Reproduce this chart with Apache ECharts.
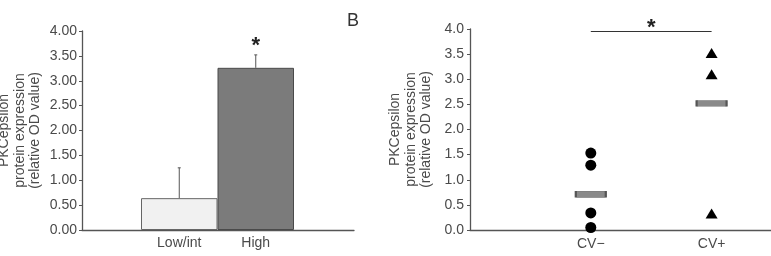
<!DOCTYPE html>
<html>
<head>
<meta charset="utf-8">
<script src="https://cdn.jsdelivr.net/npm/echarts@6/dist/echarts.min.js"></script>
<style>
  html, body { margin: 0; padding: 0; background: #fff; }
  #chart { width: 771px; height: 256px; }
</style>
</head>
<body>
<div id="chart"></div>
<script>
// ---- Data ----
const leftCategories = ['Low/int', 'High'];
const leftMeans = [0.64, 3.26];
const leftErrUpper = [1.25, 3.52];
const leftSig = ['', '*'];

const rightCategories = ['CV\u2212', 'CV+'];
const cvNegValues = [1.53, 1.29, 0.34, 0.05];
const cvPosValues = [3.52, 3.10, 0.33];
const medianValues = [0.71, 2.52];
const sigLineLevel = 3.95;
const sigLineText = '*';

const yTicksLeftDecimals = 2;
const yTicksRightDecimals = 1;
const axisName = 'PKCepsilon\nprotein expression\n(relative OD value)';

// ---- Styling ----
const FONT = 'Liberation Sans, Arial, sans-serif';
const TXT = '#4a4a4a';
const AX = '#555';

const chart = echarts.init(document.getElementById('chart'), null, { renderer: 'canvas' });

const errData = leftMeans.map((m, i) => [i, m, leftErrUpper[i], leftSig[i]]);

const option = {
  animation: false,
  title: {
    text: 'B', left: 342, top: 7,
    textStyle: { fontFamily: FONT, fontSize: 18, fontWeight: 'normal', color: '#333' }
  },
  grid: [
    { left: 141, top: 31, width: 153, height: 199, outerBoundsMode: 'none', containLabel: false },
    { left: 82, top: 31, width: 272, height: 199, outerBoundsMode: 'none', containLabel: false },
    { left: 470, top: 29, width: 302, height: 201, outerBoundsMode: 'none', containLabel: false }
  ],
  xAxis: [
    {
      gridIndex: 0, type: 'category', data: leftCategories,
      axisLine: { show: false }, axisTick: { show: false },
      axisLabel: { fontFamily: FONT, fontSize: 14, color: TXT, margin: 6 }
    },
    {
      gridIndex: 1, type: 'value', min: 0, max: 1,
      axisLine: { show: true, lineStyle: { color: AX, width: 1.3 } },
      axisTick: { show: false }, axisLabel: { show: false }, splitLine: { show: false }
    },
    {
      gridIndex: 2, type: 'value', min: 0, max: 2.5, interval: 1,
      axisLine: { show: true, lineStyle: { color: AX, width: 1.3 } },
      axisTick: { show: false }, splitLine: { show: false },
      axisLabel: {
        fontFamily: FONT, fontSize: 14, color: TXT, margin: 7,
        showMinLabel: false, showMaxLabel: false,
        formatter: v => (v >= 1 && v <= rightCategories.length && Number.isInteger(v)) ? rightCategories[v - 1] : ''
      }
    }
  ],
  yAxis: [
    {
      gridIndex: 0, type: 'value', min: 0, max: 4, interval: 0.5, offset: 59,
      axisLine: { show: true, lineStyle: { color: AX, width: 1.3 } },
      axisTick: { show: true, length: 3, lineStyle: { color: AX } },
      splitLine: { show: false },
      axisLabel: { fontFamily: FONT, fontSize: 14, color: TXT, margin: 5,
        formatter: v => v.toFixed(yTicksLeftDecimals) },
      name: axisName, nameLocation: 'middle', nameRotate: 90, nameGap: 39,
      nameTextStyle: { fontFamily: FONT, fontSize: 14, color: TXT, lineHeight: 15.5, align: 'center' }
    },
    {
      gridIndex: 1, type: 'value', min: 0, max: 4, show: false
    },
    {
      gridIndex: 2, type: 'value', min: 0, max: 4, interval: 0.5,
      axisLine: { show: true, lineStyle: { color: AX, width: 1.3 } },
      axisTick: { show: true, length: 3, lineStyle: { color: AX } },
      splitLine: { show: false },
      axisLabel: { fontFamily: FONT, fontSize: 14, color: TXT, margin: 6,
        formatter: v => v.toFixed(yTicksRightDecimals) },
      name: axisName, nameLocation: 'middle', nameRotate: 90, nameGap: 36,
      nameTextStyle: { fontFamily: FONT, fontSize: 14, color: TXT, lineHeight: 15.5, align: 'center' }
    }
  ],
  series: [
    {
      type: 'bar', xAxisIndex: 0, yAxisIndex: 0,
      barWidth: '100%', barCategoryGap: 0,
      data: leftMeans.map((v, i) => ({
        value: v,
        itemStyle: i === 0
          ? { color: '#f1f1f1', borderColor: '#666', borderWidth: 1 }
          : { color: '#7b7b7b', borderColor: '#4a4a4a', borderWidth: 1 }
      })),
      z: 2
    },
    {
      type: 'custom', xAxisIndex: 0, yAxisIndex: 0,
      data: errData,
      renderItem: function (params, api) {
        const idx = api.value(0);
        const p0 = api.coord([idx, api.value(1)]);
        const p1 = api.coord([idx, api.value(2)]);
        const children = [
          { type: 'line', shape: { x1: p0[0], y1: p0[1], x2: p1[0], y2: p1[1] },
            style: { stroke: '#555', lineWidth: 1 } },
          { type: 'line', shape: { x1: p1[0] - 1.5, y1: p1[1], x2: p1[0] + 1.5, y2: p1[1] },
            style: { stroke: '#555', lineWidth: 1 } }
        ];
        const s = leftSig[params.dataIndex];
        if (s) {
          children.push({ type: 'text', x: p1[0], y: p1[1] + 2,
            style: { text: s, fontFamily: FONT, fontSize: 22, fontWeight: 'bold', fill: '#222',
              align: 'center', verticalAlign: 'bottom' } });
        }
        return { type: 'group', children: children };
      },
      z: 3
    },
    {
      type: 'scatter', xAxisIndex: 2, yAxisIndex: 2,
      symbol: 'circle', symbolSize: 11,
      itemStyle: { color: '#000', opacity: 1 },
      data: cvNegValues.map(v => [1, v]),
      z: 3
    },
    {
      type: 'scatter', xAxisIndex: 2, yAxisIndex: 2,
      symbol: 'triangle', symbolSize: [12, 10],
      itemStyle: { color: '#000', opacity: 1 },
      data: cvPosValues.map(v => [2, v]),
      z: 3,
      markLine: {
        silent: true, symbol: 'none',
        lineStyle: { color: '#333', width: 1, type: 'solid', opacity: 1 },
        label: { show: true, position: 'middle', formatter: sigLineText, distance: -7,
          fontFamily: FONT, fontSize: 22, fontWeight: 'bold', color: '#222' },
        data: [[{ coord: [1, sigLineLevel] }, { coord: [2, sigLineLevel] }]]
      }
    },
    {
      type: 'scatter', xAxisIndex: 2, yAxisIndex: 2,
      symbol: 'rect', symbolSize: [30, 6],
      itemStyle: { color: '#8a8a8a', borderColor: '#555', borderWidth: 1, opacity: 1 },
      data: medianValues.map((v, i) => [i + 1, v]),
      z: 2
    }
  ]
};

chart.setOption(option);
</script>
</body>
</html>
